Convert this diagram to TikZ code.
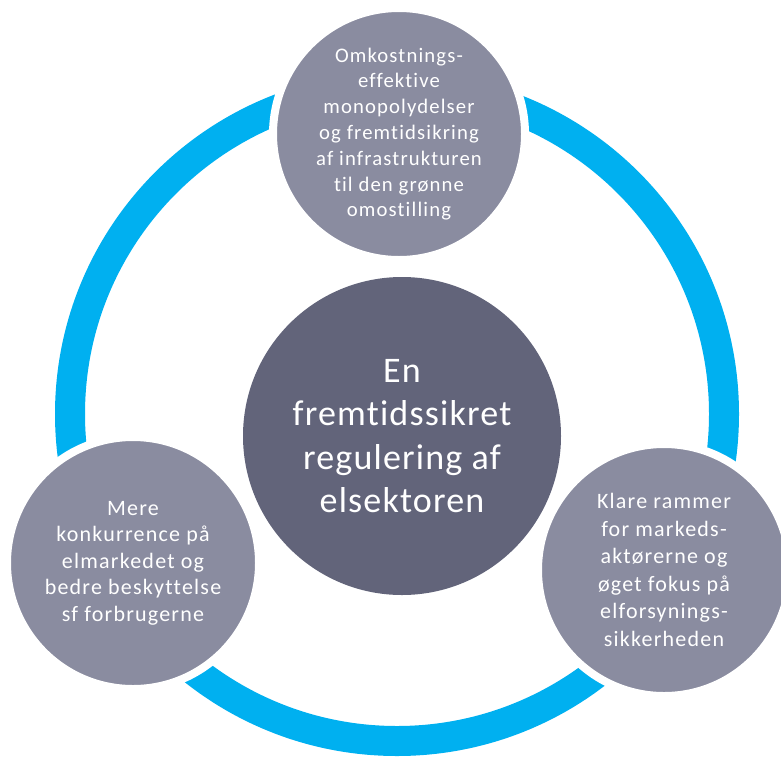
\documentclass[tikz,border=0pt]{standalone}
\usepackage{fontspec}
\setmainfont{Carlito}[Ligatures=NoCommon]
\newfontfamily\smallfont{Carlito}[Ligatures=NoCommon, LetterSpace=5.5]
\newfontfamily\bigfont{Carlito}[Ligatures=NoCommon, LetterSpace=3.3]
\definecolor{ringblue}{RGB}{0,176,240}
\definecolor{outergray}{RGB}{138,140,160}
\definecolor{centergray}{RGB}{98,100,122}
\begin{document}
\begin{tikzpicture}[x=1pt,y=-1pt,
  outer/.style={circle, fill=outergray, draw=white, line width=8pt, minimum size=252pt, inner sep=0pt, text=white, align=center},
  hub/.style={circle, fill=centergray, minimum size=318pt, inner sep=0pt, text=white, align=center, font=\bigfont\fontsize{36}{43.5}\selectfont}]
\useasboundingbox (0,0) rectangle (781,758);
\draw[ringblue, line width=30pt] (397,414) circle [radius=327pt];
\node[hub] (hub) at (402,436) {En\\fremtidssikret\\regulering af\\elsektoren};
\node[outer, font=\smallfont\fontsize{20.7}{25.8}\selectfont] (top) at (399,134) {Omkostnings-\\effektive\\monopolydelser\\og fremtidsikring\\af infrastrukturen\\til den grønne\\omostilling};
\node[outer, font=\smallfont\fontsize{22}{26.5}\selectfont] (left) at (133,563) {Mere\\konkurrence på\\elmarkedet og\\bedre beskyttelse\\sf forbrugerne};
\node[outer, font=\smallfont\fontsize{22}{27.5}\selectfont] (right) at (664,570) {Klare rammer\\for markeds-\\aktørerne og\\øget fokus på\\elforsynings-\\sikkerheden};
\end{tikzpicture}
\end{document}
